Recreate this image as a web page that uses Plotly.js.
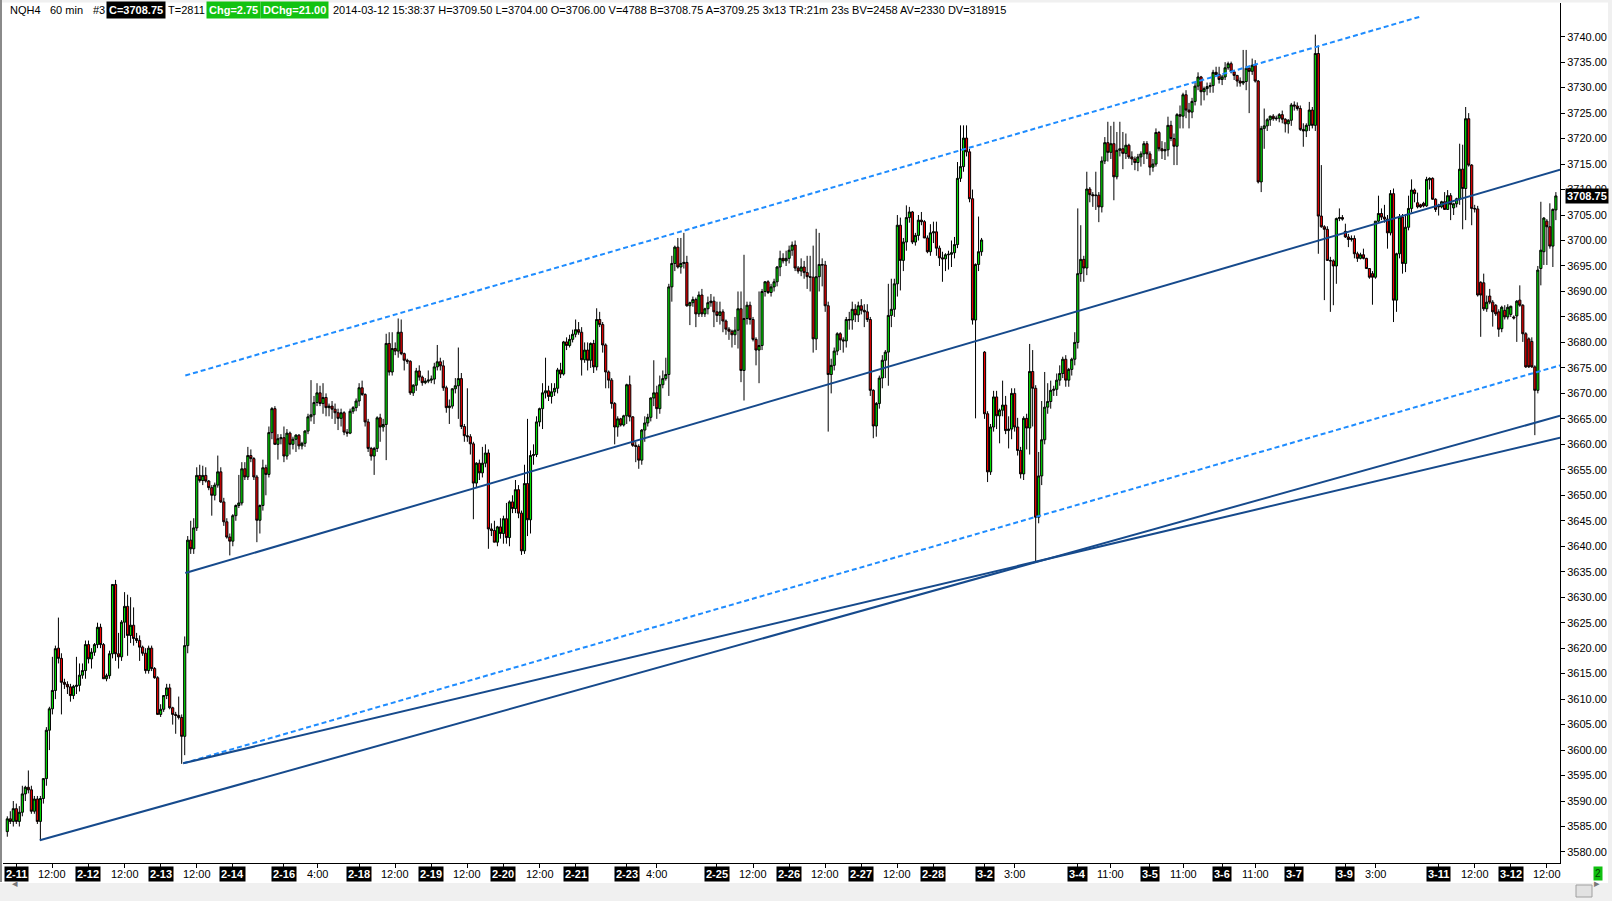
<!DOCTYPE html>
<html><head><meta charset="utf-8">
<script src="https://cdn.plot.ly/plotly-3.0.1.min.js"></script>
<style>html,body{margin:0;padding:0;background:#fff;overflow:hidden}#chart{width:1612px;height:901px}</style>
</head><body><div id="chart"></div>
<script>
// NQH4 60-min bars, 2014-02-11 .. 2014-03-12
const opens = [
3584,3586.5,3586,3588.5,3586,3587.8,3591.4,3592.7,3592.2,3588,
3590.4,3586,3590.5,3594.4,3603.9,3608.1,3611.7,3620,3618,3613.3,
3612.9,3612.4,3610.7,3612.5,3612.7,3614.7,3615.6,3620.7,3617.9,3619.2,
3620.7,3624.1,3620.7,3614,3614.6,3618.9,3632.5,3618.9,3618.3,3625.1,
3628.2,3622.5,3624.5,3621.9,3621.5,3620.2,3619,3615.6,3620,3616,
3614.2,3607,3608,3610.7,3612.2,3608.3,3607,3606.8,3606.4,3602.7,
3620.5,3641.2,3639.5,3643.6,3653.9,3652.9,3653.9,3652.8,3651.5,3650,
3652,3654.6,3648.7,3644.8,3641.8,3641,3646,3648,3648.5,3655.2,
3653.6,3657.8,3657.2,3653.6,3645.1,3648,3655.4,3654.1,3662.3,3667,
3660,3661.1,3661.3,3657.7,3662.2,3660,3661,3661.8,3659.7,3660.2,
3662.6,3665.4,3665.8,3668.2,3670.1,3668,3669.2,3667.2,3667.5,3666.9,
3666.2,3665.1,3666.2,3662.4,3662.2,3666.5,3667.2,3668.5,3671.1,3669.8,
3664.4,3659.2,3657.7,3659.2,3665.2,3663.4,3663.9,3679.8,3674.2,3678.8,
3678.3,3682,3677.8,3676.5,3676.3,3670.1,3671.6,3674.4,3673.2,3672.1,
3672.4,3672.6,3672.8,3675.2,3676.2,3675.4,3671.1,3667.2,3667.5,3670.9,
3671.5,3672.9,3663.5,3661.7,3661.5,3660.1,3652.4,3656.3,3654.4,3656.3,
3658.3,3643.4,3643.1,3640.8,3643.8,3642.5,3645.4,3641.7,3648.7,3647.4,
3651.1,3646.5,3639.1,3652.3,3645.2,3657.8,3658,3664.4,3667,3670.1,
3670.5,3669.4,3670.3,3671,3674.6,3673.8,3680.1,3679.4,3680.6,3681.6,
3682.5,3682,3676.6,3678.5,3676.5,3679.8,3675.2,3684.5,3683.5,3679.5,
3674.2,3672.6,3668,3663.4,3665,3663.8,3665.6,3671.7,3665.4,3659.8,
3659.6,3656.9,3662.8,3664.2,3665.3,3669.1,3670.1,3667,3671.7,3672.9,
3673.7,3690.9,3695.5,3698.7,3694.8,3695.5,3695.7,3687.2,3687.8,3688.4,
3685.6,3689.3,3685.6,3686.6,3687.8,3688.1,3686,3685.3,3686,3684.2,
3682.6,3682.2,3681.5,3682.4,3686.6,3674.5,3684.7,3687.3,3684.5,3680.6,
3678.5,3679.4,3690,3691.9,3689.8,3690.9,3691.9,3694.8,3696.5,3696,
3696.5,3698.1,3699.1,3694.6,3694,3694.8,3693.7,3692.9,3692.8,3680.7,
3692.9,3695.3,3695.2,3687.2,3673.7,3675.5,3678.3,3681.7,3680.5,3680.3,
3684.5,3684.4,3686.5,3685.4,3687.2,3686.3,3686,3684.5,3670.6,3663.6,
3668,3673,3676.5,3678.1,3685.3,3686.5,3691.5,3703,3696.1,3699.7,
3704.5,3705.6,3699.7,3701,3704,3703.7,3700.5,3697.8,3701.5,3701.7,
3698.5,3696.6,3696.4,3697.2,3697.3,3697.6,3699.2,3712.2,3714.5,3720.1,
3717.4,3708.2,3684.4,3695.3,3697.8,3678.1,3666,3654.6,3663.4,3669.3,
3665.6,3666.7,3667.7,3662.7,3663,3670,3663.4,3658.8,3654.2,3665.1,
3663.2,3674.3,3671,3645.7,3653.8,3660.9,3667.3,3668.4,3670.6,3670.8,
3672.6,3673.9,3676.7,3672.6,3674.7,3676.7,3680,3693.5,3696.3,3694.6,
3710.1,3709,3708.8,3708.9,3706.6,3715.6,3719.2,3717.3,3719,3712.5,
3717.7,3718,3717.1,3718.7,3716.4,3716,3715.3,3716.4,3717,3719,
3717,3714.4,3715,3721.2,3718,3717.6,3717.8,3722.6,3720,3718.5,
3724.7,3724.4,3728.6,3725.6,3725.2,3727.3,3730.3,3732.1,3729.2,3729.8,
3730.2,3730.4,3733,3732.6,3731.6,3732.1,3733.9,3734.7,3733.1,3732.4,
3731.3,3730.9,3731.2,3733.8,3733.2,3734.4,3731.3,3711.5,3722,3722.5,
3723.7,3724.4,3723.9,3724,3724.7,3723.8,3722.9,3723.6,3726.6,3726.4,
3725.9,3721.8,3721.5,3722.6,3725.6,3722.6,3736.7,3704.8,3702.7,3702.2,
3696.1,3696,3695,3704.3,3704.5,3701.8,3700.7,3700.2,3700.4,3697.4,
3696.5,3697.2,3696.5,3694.5,3693.5,3692.8,3703.8,3705.3,3704.6,3704.2,
3701.5,3709.2,3688.3,3697.4,3704.6,3695.5,3702.6,3706.3,3709.9,3707.4,
3707,3707.3,3706.8,3711.9,3712.2,3708.1,3706.9,3706.6,3707.6,3706.1,
3708.8,3706.4,3707.2,3708.2,3714,3710.2,3723.9,3714.8,3706.3,3706.2,
3691.8,3691.7,3686.6,3689.1,3687.9,3687.3,3686,3682.7,3686.3,3685,
3685.5,3685,3685.2,3688.3,3687.3,3681.7,3680.7,3680.2,3675.2,3670.6,
3694.5,3697.8,3703.8,3702.7,3698.9,3706
];
const highs = [
3587,3588,3590,3589.5,3589,3593,3593,3596,3593,3591,
3591,3591,3594.5,3604.5,3608.5,3618.3,3620.5,3626,3619,3614,
3613.5,3613,3612.8,3618.3,3617,3617,3621.5,3621.5,3620,3621,
3625,3624.8,3621,3615,3619.5,3632.5,3633.4,3623,3625.5,3631,
3630.5,3630,3628,3623,3622.5,3620.5,3620,3620.5,3620.5,3616.3,
3614.5,3609,3610.8,3613,3613,3608.5,3607.5,3610.5,3607,3622.3,
3642,3645,3645.5,3655.5,3656,3655.8,3655.5,3653,3652,3652.5,
3657.8,3655.5,3649.5,3645.5,3642.5,3646.3,3648.2,3654,3656.5,3656.5,
3659.5,3659,3657.5,3654,3648.2,3657,3656,3663.5,3667.3,3667.5,
3662,3662,3663.5,3663,3662.5,3661.5,3662,3662,3660.5,3662.8,
3666,3672.6,3669.5,3672,3671.5,3672,3670,3668,3668.5,3668,
3667,3667,3666.5,3663,3667,3667.5,3669,3672,3672.5,3670,
3665,3659.5,3659.5,3665.5,3666,3665,3681.7,3682,3682,3680,
3684.7,3684.5,3678,3676.8,3676.5,3671.8,3675,3675.5,3673.5,3673,
3674.5,3673.5,3676,3679.5,3677,3676.5,3671.5,3668.8,3671,3673,
3679,3674,3664,3671,3662,3660.5,3656.5,3657,3659.5,3660,
3659,3644.5,3645,3644,3645.5,3646,3648.5,3649,3650,3653,
3652,3647,3656,3665,3658.8,3660,3665.5,3667.2,3672,3677,
3671.5,3672,3672,3675,3676,3680.3,3681,3681.5,3682.5,3684.5,
3684,3683,3680,3680,3680,3680.5,3686.7,3686,3684,3679.8,
3674.5,3673,3668.3,3665.5,3665.2,3665.8,3671.9,3673.5,3665.5,3660.5,
3660,3663,3665.5,3666,3669.2,3676.5,3671.5,3673.5,3674.5,3677,
3691.5,3697,3699,3700.5,3700.5,3701.5,3697,3688,3689,3688.8,
3690,3690.5,3686.8,3689,3689.5,3689,3688,3688,3686.5,3684.5,
3683,3682.5,3685,3690,3690,3697.2,3688,3688,3685,3681,
3690,3690.5,3692,3692.2,3691.5,3692.5,3695,3698,3697.5,3698,
3699,3699.8,3700,3695,3696.5,3696,3697,3697,3699,3702.3,
3701.5,3696.5,3696,3688,3676.8,3679,3682,3682,3681,3685,
3686,3688,3687.5,3688,3688.5,3687.5,3687.5,3685,3670.8,3668.3,
3673.5,3677.5,3678.5,3691.5,3692.5,3692.5,3705,3704.5,3700.5,3706.9,
3706.6,3705.8,3701.5,3705,3705.6,3704,3701,3703.2,3703.7,3703.7,
3699,3697.8,3697.5,3698,3700,3700.7,3715.4,3722.6,3722.6,3722.6,
3718,3710,3695.5,3704.7,3700.5,3678.3,3666.5,3664,3670.5,3670.5,
3667,3672.5,3669.5,3665.5,3671,3671,3665.2,3659.5,3665.5,3666,
3679.7,3678.5,3671.6,3658.5,3668.5,3674.2,3672,3672.5,3671.5,3673.9,
3675.5,3677.2,3677.5,3675,3677,3682,3706.3,3703,3697,3713.5,
3710.5,3709.5,3713.5,3709.5,3716.5,3720.3,3723.3,3722.5,3723.3,3721.3,
3723.3,3721.3,3721,3719,3717.5,3716.5,3717,3717.5,3719.5,3719.5,
3717.5,3716,3722,3721.5,3719.5,3719.3,3724.3,3723.5,3721,3725,
3726.5,3729,3729.5,3727,3728,3731,3733,3732.3,3730.2,3731,
3731,3733.5,3734.1,3734.1,3732.5,3735,3735.1,3735.1,3733.5,3732.5,
3732,3737.4,3737.4,3734,3735.7,3735.4,3731.5,3722.5,3725.9,3724,
3724.5,3724.8,3724.5,3725,3725.5,3724,3723.8,3727,3727.3,3727.1,
3726.5,3723,3723,3727.2,3726.2,3740.4,3738.3,3714.8,3703,3702.8,
3696.8,3696.3,3704.5,3706.3,3705,3703.3,3701.3,3701,3701,3697.8,
3697.6,3698.4,3696.6,3694.6,3694,3703.8,3708.8,3706.3,3707,3705,
3709.9,3710.2,3697.6,3705.2,3705.2,3705.2,3708.8,3712,3710.2,3709.4,
3707.2,3707.6,3712.5,3712.4,3712.4,3708.3,3707.2,3707.8,3709.5,3709.9,
3709.3,3707.4,3708.4,3719,3718.8,3726.2,3725,3715,3707,3706.8,
3692,3693.5,3689.2,3690.5,3688.3,3687.5,3686.5,3687.2,3687.3,3687.5,
3687.2,3685.3,3688.3,3691.2,3687.5,3682,3681,3681,3675.5,3695,
3707.6,3704.6,3704.2,3707.3,3706.3,3709.5
];
const lows = [
3583,3585.5,3585,3585.5,3585,3587,3590,3591.5,3587.5,3587.5,
3585.5,3582.3,3589.5,3593,3600,3607,3610,3617,3607,3612,
3611,3609.5,3610,3611,3611.5,3614,3614,3617,3616,3618.5,
3620,3620,3614,3613.5,3614,3618,3617.5,3616,3617.5,3622,
3618.5,3621,3620.5,3621,3617.5,3618.5,3615,3615,3615.5,3614,
3607,3606.5,3607.5,3610,3608,3605,3603.2,3606,3597.3,3599,
3619,3638.5,3638.5,3643,3652.5,3652,3652.5,3651,3646,3649,
3651.5,3648.5,3644,3641.5,3638.2,3640,3645,3647.5,3648,3653,
3653,3656.5,3653,3640.8,3642.5,3647,3650,3653.5,3661,3660,
3657,3660,3656.5,3657,3658,3659,3658.5,3659,3659,3659.5,
3662,3664.5,3664,3667.5,3667.5,3666,3665.5,3665.5,3665,3664,
3662.8,3663.5,3661.8,3661.5,3662,3666,3666.5,3667.5,3669.5,3663.5,
3658.5,3656.8,3654,3658.5,3660.5,3662.5,3656.9,3673.5,3673.5,3677.5,
3677,3677.5,3674.5,3675.8,3669.7,3669.5,3670.5,3672.5,3671.5,3671.8,
3672,3672,3671.8,3674.5,3674.5,3670.5,3666.2,3664,3667,3670,
3665,3663,3660.5,3660.5,3658,3645.3,3651.5,3653,3653.5,3655.5,
3639.5,3642,3640.8,3640,3641.5,3640.5,3640.5,3640,3646.5,3646.5,
3645.5,3638.3,3638.5,3642,3642.5,3656,3657.5,3663.5,3663,3669,
3668.5,3668,3669.5,3670,3673,3673.5,3678.5,3679,3680,3681,
3681.5,3673.5,3676,3674.5,3675,3674,3674.5,3683,3678,3671,
3671,3667,3660,3661.5,3663.5,3663.5,3664,3664.5,3659.5,3656.5,
3655.2,3656,3660.5,3663.5,3664.5,3667.5,3665,3666,3671,3672.5,
3669.5,3688,3694,3694.5,3693.5,3694.5,3687,3683.4,3687,3683,
3685,3685,3685,3685.5,3687,3683,3684,3683.5,3682,3681.5,
3680.5,3679,3679.5,3678.8,3672.2,3668.6,3683.5,3683.5,3680.2,3675.5,
3672,3678.5,3689,3689.5,3689,3690,3691,3693,3695.5,3695,
3695.5,3697,3694,3693.5,3693,3692.5,3690.5,3690,3678,3678.5,
3690,3691,3686,3662.5,3670,3674.5,3677.5,3678.5,3678,3679,
3682.5,3682.5,3684,3684,3685.5,3683,3684,3669.5,3661.2,3661.5,
3667,3671,3673,3671.5,3683,3685,3689,3690.2,3694,3698,
3703.5,3699.3,3699,3700,3703,3700.5,3697.5,3697,3699.5,3697,
3695,3691.9,3694,3694.3,3694.8,3696.5,3698.5,3711.5,3713.5,3716.5,
3707.5,3683.5,3665.1,3694,3697,3665,3652.6,3654,3662.5,3663,
3660.2,3665.5,3662,3659.2,3661,3662.5,3657.8,3653.3,3653,3659,
3658,3663.5,3637,3644.5,3652,3660,3666,3667,3669.5,3669.5,
3671.5,3673,3671.3,3671.3,3673.5,3675.5,3678.8,3691.9,3691.9,3693.2,
3707.5,3706.6,3706,3703.6,3705.5,3715,3715.5,3716,3707.9,3712,
3716.5,3714,3716,3716,3714.8,3713.8,3713.6,3714.5,3715,3716,
3712.8,3713.5,3714.5,3717.5,3716,3715.8,3716.5,3719.5,3714.8,3714.8,
3722,3722,3724,3722,3724,3726.5,3729.5,3726.5,3727.5,3728.5,
3729,3729,3732.5,3730.8,3730.5,3731.5,3733.5,3732.8,3731.5,3730.2,
3730.2,3730.5,3729.5,3725,3732.5,3731,3711.2,3709.5,3718,3721.5,
3722.5,3723.5,3723.5,3723.2,3723,3721.2,3721,3722.5,3725.5,3725.5,
3721.5,3718.4,3720.3,3721.5,3722,3721.5,3697.4,3702.5,3688.3,3696,
3686,3687.3,3691.5,3703.8,3703.9,3700.5,3698.7,3699.8,3696.5,3695.8,
3696.3,3696.3,3694.5,3692.5,3687.4,3692.5,3703.5,3704,3703.5,3698.4,
3701,3684,3686,3696.5,3693.5,3693.8,3702,3705.5,3707.5,3706.3,
3706.4,3706.5,3706.6,3710,3708,3705.6,3704.9,3706.3,3706,3706,
3704,3705,3706.5,3707,3702.2,3704,3714.5,3703,3705.5,3689,
3681.1,3686.2,3686,3687.5,3683.1,3685.2,3681.1,3682,3684.5,3684.5,
3685,3684.5,3680.1,3687,3680.1,3675,3675,3675,3661.8,3670,
3691.2,3695.2,3695.2,3698.4,3694.8,3704
];
const closes = [
3586.5,3586,3588.5,3586,3587.8,3591.4,3592.7,3592.2,3588,3590.4,
3586,3590.5,3594.4,3603.9,3608.1,3611.7,3619.9,3618,3613.3,3612.9,
3612.4,3610.7,3612.5,3612.7,3614.7,3615.6,3620.7,3617.9,3619.2,3620.7,
3624.1,3620.7,3614,3614.6,3618.9,3632.5,3618.9,3618.3,3625.1,3628.2,
3622.5,3624.5,3621.9,3621.5,3620.2,3619,3615.6,3620,3616,3614.2,
3607,3608,3610.7,3612.2,3608.3,3607,3606.8,3606.4,3602.7,3620.5,
3641.2,3639.5,3643.6,3653.9,3652.9,3653.9,3652.8,3651.5,3650,3652,
3654.6,3648.7,3644.8,3641.8,3641,3646,3648,3648.5,3655.2,3653.6,
3657.8,3657.2,3653.6,3645.1,3648,3655.4,3654.1,3662.3,3667,3660,
3661.1,3661.3,3657.7,3662.2,3660,3661,3661.8,3659.7,3660.2,3662.6,
3665.4,3665.8,3668.2,3670.1,3668,3669.2,3667.2,3667.5,3666.9,3666.2,
3665.1,3666.2,3662.4,3662.2,3666.5,3667.2,3668.5,3671.1,3669.8,3664.4,
3659.2,3657.7,3659.2,3665.2,3663.4,3663.9,3679.8,3674.2,3678.8,3678.3,
3682,3677.8,3676.5,3676.3,3670.1,3671.6,3674.4,3673.2,3672.1,3672.4,
3672.6,3672.8,3675.2,3676.2,3675.4,3671.1,3667.2,3667.5,3670.9,3671.5,
3672.9,3663.5,3661.7,3661.5,3660.1,3652.4,3656.3,3654.4,3656.3,3658.3,
3643.4,3643.1,3640.8,3643.8,3642.5,3645.4,3641.7,3648.7,3647.4,3651.1,
3646.5,3639.1,3652.3,3645.2,3657.8,3658,3664.4,3667,3670.1,3670.5,
3669.4,3670.3,3671,3674.6,3673.8,3680.1,3679.4,3680.6,3681.6,3682.5,
3682,3676.6,3678.5,3676.5,3679.8,3675.2,3684.5,3683.5,3679.5,3674.2,
3672.6,3668,3663.4,3665,3663.8,3665.6,3671.7,3665.4,3659.8,3659.6,
3656.9,3662.8,3664.2,3665.3,3669.1,3670.1,3667,3671.7,3672.9,3673.7,
3690.9,3695.5,3698.7,3694.8,3695.5,3695.7,3687.2,3687.8,3688.4,3685.6,
3689.3,3685.6,3686.6,3687.8,3688.1,3686,3685.3,3686,3684.2,3682.6,
3682.2,3681.5,3682.4,3686.6,3674.5,3684.7,3687.3,3684.5,3680.6,3678.5,
3679.4,3690,3691.9,3689.8,3690.9,3691.9,3694.8,3696.5,3696,3696.5,
3698.1,3699.1,3694.6,3694,3694.8,3693.7,3692.9,3692.8,3680.7,3692.9,
3695.3,3695.2,3687.2,3673.7,3675.5,3678.3,3681.7,3680.5,3680.3,3684.5,
3684.4,3686.5,3685.4,3687.2,3686.3,3686,3684.5,3670.6,3663.6,3668,
3673,3676.5,3678.1,3685.3,3686.5,3691.5,3703,3696.1,3699.7,3704.5,
3705.6,3699.7,3701,3704,3703.7,3700.5,3697.8,3701.5,3701.7,3698.5,
3696.6,3696.4,3697.2,3697.3,3697.6,3699.2,3712.2,3714.5,3720.1,3717.4,
3708.2,3684.4,3695.3,3697.8,3700.1,3666,3654.6,3663.4,3669.3,3665.6,
3666.7,3667.7,3662.7,3663,3670,3663.4,3658.8,3654.2,3665.1,3663.2,
3674.3,3671,3645.7,3653.8,3660.9,3667.3,3668.4,3670.6,3670.8,3672.6,
3673.9,3676.7,3672.6,3674.7,3676.7,3680,3693.5,3696.3,3694.6,3710.1,
3709,3708.8,3708.9,3706.6,3715.6,3719.2,3717.3,3719,3712.5,3717.7,
3718,3717.1,3718.7,3716.4,3716,3715.3,3716.4,3717,3719,3717,
3714.4,3715,3721.2,3718,3717.6,3717.8,3722.6,3720,3718.5,3724.7,
3724.4,3728.6,3725.6,3725.2,3727.3,3730.3,3732.1,3729.2,3729.8,3730.2,
3730.4,3733,3732.6,3731.6,3732.1,3733.9,3734.7,3733.1,3732.4,3731.3,
3730.9,3731.2,3733.8,3733.2,3734.4,3731.3,3711.5,3722,3722.5,3723.7,
3724.4,3723.9,3724,3724.7,3723.8,3722.9,3723.6,3726.6,3726.4,3725.9,
3721.8,3721.5,3722.6,3725.6,3722.6,3736.7,3704.8,3702.7,3702.2,3696.1,
3696,3695,3704.3,3704.5,3704.2,3700.7,3700.2,3700.4,3697.4,3696.5,
3697.2,3696.5,3694.5,3692.8,3692.8,3703.8,3705.3,3704.6,3704.2,3701.5,
3709.2,3688.3,3697.4,3704.6,3695.5,3702.6,3706.3,3709.9,3709.2,3706.6,
3706.6,3706.8,3712,3712.2,3708.1,3706.1,3706.6,3707.6,3706.1,3708.8,
3707.1,3707.2,3708.2,3714,3710.2,3723.9,3714.8,3706.3,3706.2,3689.3,
3689.3,3686.6,3687.9,3687.9,3686,3685.6,3682.6,3686.9,3685,3686.9,
3687.1,3684.8,3688.1,3687.3,3681.7,3675.2,3675.2,3675.2,3670.6,3694.2,
3698.1,3704.4,3702.7,3698.9,3706.1,3708.75
];

// x-axis labels: bar index where each label sits, and its text
const tickIdx = [3,15,27,39,51,63,75,92,103,117,129,141,153,165,177,189,206,216,236,248,260,272,284,296,308,325,335,356,367,380,391,404,415,428,445,455,476,488,500,512];
const tickText = ['2-11','12:00','2-12','12:00','2-13','12:00','2-14','2-16','4:00','2-18','12:00','2-19','12:00','2-20','12:00','2-21','2-23','4:00','2-25','12:00','2-26','12:00','2-27','12:00','2-28','3-2','3:00','3-4','11:00','3-5','11:00','3-6','11:00','3-7','3-9','3:00','3-11','12:00','3-12','12:00'];
// price-axis tick values
const priceTicks = [3580,3585,3590,3595,3600,3605,3610,3615,3620,3625,3630,3635,3640,3645,3650,3655,3660,3665,3670,3675,3680,3685,3690,3695,3700,3705,3710,3715,3720,3725,3730,3735,3740];

// trend lines: endpoints as [bar index, price]
const upperChannelX = [59.2, 469.7],  upperChannelY = [3673.5, 3743.9];
const midLineX      = [59.2, 516.4],  midLineY      = [3634.75, 3713.9];
const lowerChannelX = [58.5, 516.4],  lowerChannelY = [3597.4, 3675.5];
const supportAX     = [10.8, 516.4],  supportAY     = [3582.3, 3665.6];
const supportBX     = [58.5, 516.4],  supportBY     = [3597.4, 3661.3];

const lastPrice = 3708.75;
const headerQuote = ['NQH4', '60 min', '#3'];
const headerLast = 'C=3708.75', headerTicks = 'T=2811', headerChg = 'Chg=2.75', headerDChg = 'DChg=21.00';
const headerRest = '2014-03-12 15:38:37 H=3709.50 L=3704.00 O=3706.00 V=4788 B=3708.75 A=3709.25 3x13 TR:21m 23s BV=2458 AV=2330 DV=318915';

// ---------- drawing ----------
const FONT = 'Liberation Sans, Arial, sans-serif';
const PL = 3, PR = 1560, PT = 3, PB = 863;
const px = X => (X - PL) / (PR - PL);
const py = Y => (PB - Y) / (PB - PT);
const barIndex = closes.map((_, i) => i);

const traces = [{
  type: 'candlestick', x: barIndex, open: opens, high: highs, low: lows, close: closes,
  increasing: {line: {color: '#000', width: 1}, fillcolor: '#00dd00'},
  decreasing: {line: {color: '#000', width: 1}, fillcolor: '#ee0000'},
  whiskerwidth: 0, hoverinfo: 'skip', showlegend: false
}];
function lineTrace(xs, ys, color, dash) {
  return {type: 'scatter', mode: 'lines', x: xs, y: ys, line: {color: color, width: 2, dash: dash},
          hoverinfo: 'skip', showlegend: false};
}
const SOLID = '#164a8c', DASH = '#1e8cff';
traces.push(lineTrace(upperChannelX, upperChannelY, DASH, '5px,3px'));
traces.push(lineTrace(lowerChannelX, lowerChannelY, DASH, '5px,3px'));
traces.push(lineTrace(midLineX, midLineY, SOLID, 'solid'));
traces.push(lineTrace(supportAX, supportAY, SOLID, 'solid'));
traces.push(lineTrace(supportBX, supportBY, SOLID, 'solid'));

const anns = [];
tickIdx.forEach((v, i) => {
  const t = tickText[i];
  const isDate = t.indexOf('-') >= 0;
  anns.push({x: v, xref: 'x', y: 0, yref: 'paper', yanchor: 'top', yshift: -3, showarrow: false,
    text: isDate ? '<b>' + t + '</b>' : t,
    font: {family: FONT, size: 11, color: isDate ? '#fff' : '#000'},
    bgcolor: isDate ? '#000' : 'rgba(0,0,0,0)', borderpad: 1});
});
function hdr(X, text, opts) {
  const o = Object.assign({x: px(X), xref: 'paper', xanchor: 'left', y: py(10), yref: 'paper', yanchor: 'middle',
    text: text, showarrow: false, font: {family: FONT, size: 11, color: '#000'}}, opts || {});
  anns.push(o);
}
hdr(8, headerQuote[0]); hdr(47.5, headerQuote[1]); hdr(91, headerQuote[2]);
hdr(106, '<b>' + headerLast + '</b>', {bgcolor: '#000', borderpad: 2, font: {family: FONT, size: 11, color: '#fff'}});
hdr(166, headerTicks);
hdr(206, '<b>' + headerChg + '</b>', {bgcolor: '#12c212', borderpad: 2, font: {family: FONT, size: 11, color: '#fff'}});
hdr(260, '<b>' + headerDChg + '</b>', {bgcolor: '#12c212', borderpad: 2, font: {family: FONT, size: 11, color: '#fff'}});
hdr(331, headerRest);
// last price marker on the price axis
anns.push({x: 1, xref: 'paper', xanchor: 'left', xshift: 5, y: lastPrice, yref: 'y', yanchor: 'middle',
  text: '<b>' + lastPrice.toFixed(2) + '</b>', showarrow: false, bgcolor: '#000', borderpad: 1,
  font: {family: FONT, size: 11, color: '#fff'}});
// small corner marker and scroll arrows
anns.push({x: px(1603), xref: 'paper', y: 0, yref: 'paper', yanchor: 'top', yshift: -3, text: '2', showarrow: false,
  bgcolor: '#10c010', borderpad: 1, font: {family: FONT, size: 10, color: '#064006'}});
anns.push({x: px(10), xref: 'paper', y: py(891), yref: 'paper', text: '\u25C2', showarrow: false, font: {family: FONT, size: 11, color: '#777'}});
anns.push({x: px(1602), xref: 'paper', y: py(891), yref: 'paper', text: '\u25B8', showarrow: false, font: {family: FONT, size: 11, color: '#777'}});

const shapes = [
  {type: 'rect', xref: 'paper', yref: 'paper', x0: px(0), x1: px(1612), y0: py(883), y1: py(901), fillcolor: '#f0f0f0', line: {width: 0}, layer: 'below'},
  {type: 'rect', xref: 'paper', yref: 'paper', x0: px(0), x1: px(1612), y0: py(0), y1: py(2.5), fillcolor: '#f0f0f0', line: {width: 0}, layer: 'below'},
  {type: 'rect', xref: 'paper', yref: 'paper', x0: px(1608), x1: px(1612), y0: py(0), y1: py(883), fillcolor: '#f0f0f0', line: {width: 0}, layer: 'below'},
  {type: 'rect', xref: 'paper', yref: 'paper', x0: px(1576), x1: px(1592), y0: py(885), y1: py(897), fillcolor: '#e2e2e2', line: {color: '#a0a0a0', width: 1}},
  {type: 'line', xref: 'paper', yref: 'paper', x0: px(1), x1: px(1), y0: py(0), y1: py(882), line: {color: '#8a8a8a', width: 2}}
];

const layout = {
  width: 1612, height: 901, margin: {l: PL, r: 1612 - PR, t: PT, b: 901 - PB},
  paper_bgcolor: '#fff', plot_bgcolor: '#fff', showlegend: false,
  font: {family: FONT, size: 11, color: '#000'},
  boxgap: 0.2, boxgroupgap: 0.1,
  xaxis: {range: [-1.43, 516.37], showgrid: false, zeroline: false, showline: true, linecolor: '#000', linewidth: 1,
          ticks: 'outside', ticklen: 4, tickcolor: '#000', tickmode: 'array', tickvals: tickIdx, showticklabels: false,
          rangeslider: {visible: false}, fixedrange: true},
  yaxis: {range: [3577.84, 3746.61], side: 'right', showgrid: false, zeroline: false, showline: true, linecolor: '#000',
          linewidth: 1, ticks: 'outside', ticklen: 4, tickcolor: '#000', tickmode: 'array', tickvals: priceTicks,
          tickformat: '.2f', tickfont: {family: FONT, size: 11, color: '#000'}, fixedrange: true},
  annotations: anns, shapes: shapes
};
Plotly.newPlot('chart', traces, layout, {displayModeBar: false, staticPlot: true});
</script>
</body></html>
